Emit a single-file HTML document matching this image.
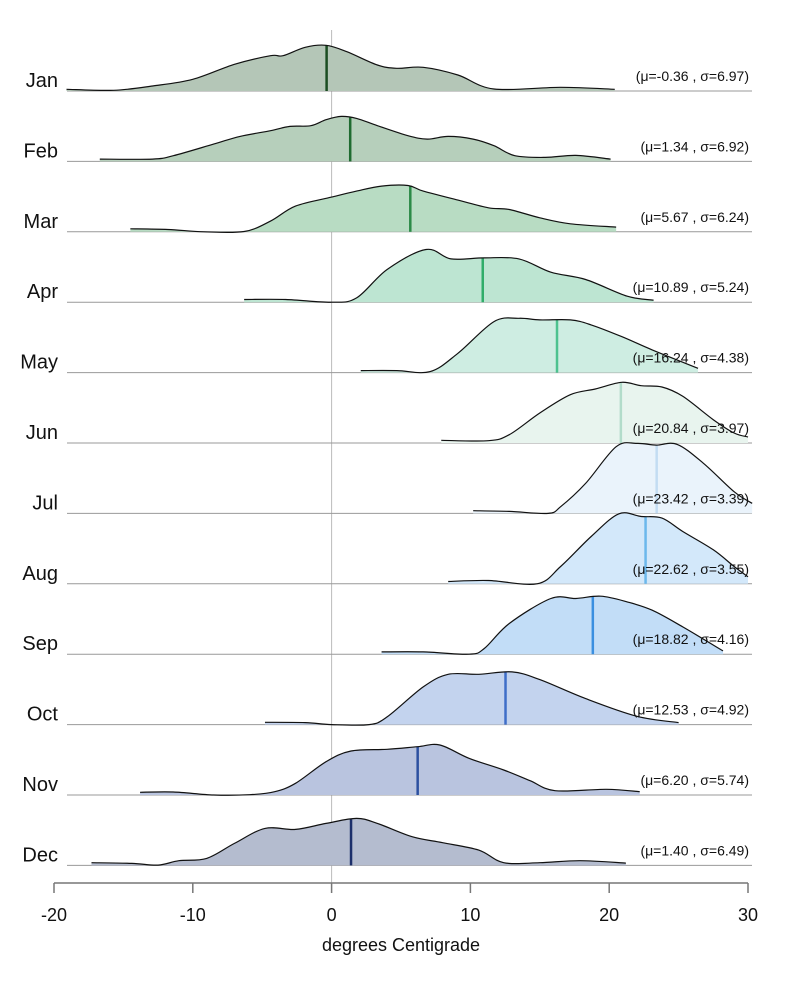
<!DOCTYPE html>
<html><head><meta charset="utf-8"><style>
body{margin:0;background:#fff}
svg{display:block;font-family:"Liberation Sans",sans-serif}
</style></head><body>
<svg id="chart" width="800" height="1000"></svg>
<script>
const months=["Jan","Feb","Mar","Apr","May","Jun","Jul","Aug","Sep","Oct","Nov","Dec"];
const means=[-0.36,1.34,5.67,10.89,16.24,20.84,23.42,22.62,18.82,12.53,6.20,1.40];
const sds=[6.97,6.92,6.24,5.24,4.38,3.97,3.39,3.55,4.16,4.92,5.74,6.49];
const xTicks=[-20,-10,0,10,20,30];
const densJan=[[-19.1,1.7],[-15.7,0.7],[-12.9,5],[-10,11.7],[-7,26.7],[-4.4,35.3],[-3.5,35.3],[-1.9,43.7],[-0.4,45.7],[1.1,39.3],[3.3,26],[4.7,22.7],[6.6,23.7],[9.1,16],[11.7,2],[16.5,3.7],[20.4,1.7]];
const densFeb=[[-16.7,2.3],[-12.9,2.3],[-11.4,5.7],[-8.5,17.3],[-6.6,25],[-4.4,30.7],[-3,35],[-1.5,35.7],[-0.4,41.7],[0.7,45],[1.8,43],[3.3,35.7],[5.5,25.7],[6.9,22.3],[8.4,25],[10.2,22.3],[11.7,15.7],[13.2,5.7],[15.4,4],[17.6,6],[20.1,2.3]];
const densMar=[[-14.5,3],[-11.8,2.3],[-9.2,0],[-6.3,0.3],[-4.4,10.7],[-2.6,25.7],[0,34.7],[1.8,40.7],[3.6,45.7],[5.5,46.3],[6.6,40.7],[9.1,31.7],[11.3,24],[12.8,22.3],[15,14],[17.2,8],[20.5,4.7]];
const densApr=[[-6.3,2.7],[-3.3,2.7],[0,0],[1.8,4.3],[4,32.7],[6.8,52.7],[8.6,43.3],[11,44.3],[13.5,43.3],[15.8,30],[18.3,22.7],[21.3,6],[23.2,2]];
const densMay=[[2.1,2],[4.7,2],[7.1,1],[9.1,19.3],[11.7,51],[13.5,54.3],[15,52.7],[17.2,52.7],[18.7,47.7],[20.9,36],[23.1,22.7],[26.4,4.3]];
const densJun=[[7.9,2.7],[11.3,2.3],[12.8,8.3],[15,30],[17.2,48.3],[19,54],[20.9,60.7],[22.3,57.3],[23.8,56],[25.3,46.7],[27.5,23.3],[29,10],[30,6]];
const densJul=[[10.2,2.7],[12.8,2],[15.6,0],[16.5,6.7],[18.3,30],[20.5,66.7],[22,70],[23.4,68.3],[24.9,69],[26.8,50],[29,21.7],[30.3,10]];
const densAug=[[8.4,2.3],[11.3,3.3],[14.8,0],[16.5,17.3],[18.7,47.3],[20.7,70],[22.3,67.3],[23.8,65.7],[25.3,52.3],[27.5,34],[29,17.3],[30,7]];
const densSep=[[3.6,2.3],[6.6,2.3],[9.9,0],[11,5.7],[12.8,30.7],[15.8,55.7],[17.6,55.7],[19.4,58],[21.3,52.3],[23.1,44],[25.3,27.3],[28.2,3.3]];
const densOct=[[-4.8,2.3],[-1.9,2],[0,0],[2.7,0],[4,7.7],[6.6,37.7],[8.4,50.3],[10.6,50.3],[13,52.7],[15,45],[18.3,26],[22,8.3],[25,2]];
const densNov=[[-13.8,2.7],[-11.4,3],[-8.5,0],[-5.9,0.3],[-4.1,3.3],[-2.6,11.7],[-0.4,33.3],[1.4,44],[4,45.7],[6.2,48.3],[7.8,50],[9.9,36.7],[12.4,25],[14.3,14.3],[16.1,4.3],[19.8,5.7],[22.2,3.3]];
const densDec=[[-17.3,2.7],[-14.4,2],[-12.5,0.3],[-11,4.7],[-9,7],[-7,22],[-4.8,37],[-2.6,36],[-0.4,42],[1.8,47],[3.3,42],[5.8,28.7],[8,22.7],[10.6,15.3],[12.4,2.7],[15,2.7],[17.9,4.7],[21.2,2.3]];
const densities=[densJan,densFeb,densMar,densApr,densMay,densJun,densJul,densAug,densSep,densOct,densNov,densDec];

const fills=["#b4c6b7","#b6cfbb","#b8dcc3","#bde5d2","#ceede2","#e8f4ee","#eaf3fb","#d3e8fa","#c2ddf7","#c3d3ee","#b9c4df","#b4bccf"];
const meanCols=["#1b4d22","#1f6b30","#2b8a47","#30ad6a","#4dc28f","#b2dcca","#c3dcf2","#6cb8ec","#3a8fe0","#3e6ec8","#2c50a0","#1c2f6b"];
const NS="http://www.w3.org/2000/svg";
const svg=document.getElementById('chart');
const x=t=>54+(t+20)*(694/50);
const base=i=>91+i*70.4;
const y=(i,d)=>base(i)-d;
function mk(tag,attrs,parent){const e=document.createElementNS(NS,tag);for(const k in attrs)e.setAttribute(k,attrs[k]);(parent||svg).appendChild(e);return e;}
function smooth(pts){let d="M"+pts[0][0]+","+pts[0][1];for(let k=0;k<pts.length-1;k++){const p0=pts[k-1]||pts[k],p1=pts[k],p2=pts[k+1],p3=pts[k+2]||p2;const c1=[p1[0]+(p2[0]-p0[0])/6,p1[1]+(p2[1]-p0[1])/6],c2=[p2[0]-(p3[0]-p1[0])/6,p2[1]-(p3[1]-p1[1])/6];d+=" C"+c1[0]+","+c1[1]+" "+c2[0]+","+c2[1]+" "+p2[0]+","+p2[1];}return d;}
function interp(arr,t){for(let k=0;k<arr.length-1;k++){if(t>=arr[k][0]&&t<=arr[k+1][0]){const f=(t-arr[k][0])/(arr[k+1][0]-arr[k][0]);return arr[k][1]+f*(arr[k+1][1]-arr[k][1]);}}return 0;}
const zl=mk('line',{x1:x(0),x2:x(0),y1:30,y2:883,stroke:"#bbb","stroke-width":1});


months.forEach((m,i)=>{
  const g=mk('g',{});
  
  
  const bl=mk('line',{x1:67,x2:752,y1:base(i),y2:base(i),stroke:"#999","stroke-width":1},g);
  
  
  const pts=densities[i].map(p=>[x(p[0]),y(i,p[1])]);
  const line=smooth(pts);
  const area=mk('path',{d:line+" L"+pts[pts.length-1][0]+","+base(i)+" L"+pts[0][0]+","+base(i)+" Z",fill:fills[i],stroke:"none"},g);
  
  
  const ml=mk('line',{x1:x(means[i]),x2:x(means[i]),y1:base(i),y2:y(i,interp(densities[i],means[i])),stroke:meanCols[i],"stroke-width":2.5},g);
  
  
  const cv=mk('path',{d:line,fill:"none",stroke:"#111","stroke-width":1.2},g);
  
  
  const lb=mk('text',{x:58,y:base(i)-4,"text-anchor":"end","font-size":20,fill:"#111"},g);
  lb.textContent=m;
  
  
  const st=mk('text',{x:749,y:base(i)-10,"text-anchor":"end","font-size":14,fill:"#111"},g);
  st.textContent="(μ="+means[i].toFixed(2)+" , σ="+sds[i].toFixed(2)+")";
  
  
});
const ax=mk('line',{x1:54,x2:748,y1:883,y2:883,stroke:"#777","stroke-width":1.5});


xTicks.forEach(t=>{
  const tk=mk('line',{x1:x(t),x2:x(t),y1:883,y2:893,stroke:"#777","stroke-width":1.5});
  
  
  const tl=mk('text',{x:x(t),y:921,"text-anchor":"middle","font-size":18,fill:"#111"});
  tl.textContent=t;
  
  
});
const xt=mk('text',{x:401,y:951,"text-anchor":"middle","font-size":18,fill:"#111"});
xt.textContent="degrees Centigrade";


</script>
</body></html>
